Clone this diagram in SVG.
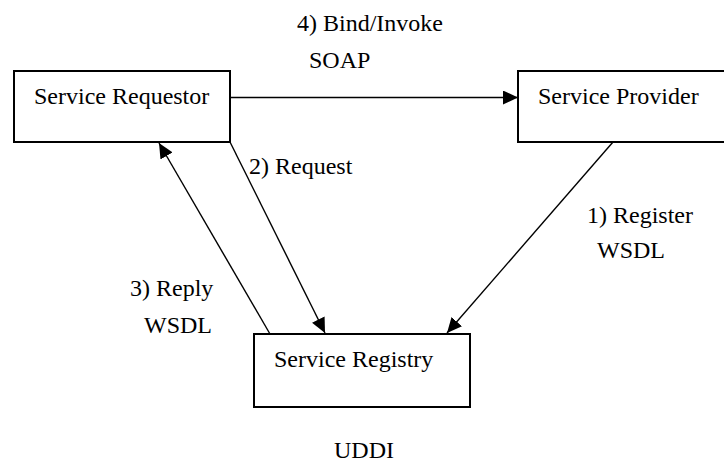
<svg xmlns="http://www.w3.org/2000/svg" width="724" height="464" viewBox="0 0 724 464">
<defs>
<marker id="ah" markerUnits="userSpaceOnUse" markerWidth="16" markerHeight="14" refX="15" refY="7" orient="auto">
<path d="M0,0 L15,7 L0,14 Z" fill="#000"/>
</marker>
<style>
.box{fill:#fff;stroke:#000;stroke-width:2}
.ln{fill:none;stroke:#000;stroke-width:1.4}
text{font-family:"Liberation Serif","Times New Roman",serif;font-size:24px;fill:#000}
</style>
</defs>
<rect width="724" height="464" fill="#fff"/>
<g id="connectors">
<line class="ln" x1="230" y1="97.5" x2="518" y2="97.5" marker-end="url(#ah)"/>
<line class="ln" x1="230" y1="142" x2="325" y2="333" marker-end="url(#ah)"/>
<line class="ln" x1="270" y1="334" x2="159" y2="143" marker-end="url(#ah)"/>
<line class="ln" x1="613" y1="142" x2="447" y2="333" marker-end="url(#ah)"/>
</g>
<g id="requestor">
<rect class="box" x="14" y="71" width="216" height="71"/>
<text x="34" y="104">Service Requestor</text>
</g>
<g id="provider">
<rect class="box" x="518" y="71" width="216" height="71"/>
<text x="538" y="104">Service Provider</text>
</g>
<g id="registry">
<rect class="box" x="254" y="334" width="216" height="73"/>
<text x="274" y="367">Service Registry</text>
</g>
<g id="labels">
<text x="297" y="31">4) Bind/Invoke</text>
<text x="309" y="68">SOAP</text>
<text x="249" y="174">2) Request</text>
<text x="587" y="223">1) Register</text>
<text x="597" y="258">WSDL</text>
<text x="130" y="296">3) Reply</text>
<text x="144" y="333">WSDL</text>
<text x="334" y="458">UDDI</text>
</g>
</svg>
